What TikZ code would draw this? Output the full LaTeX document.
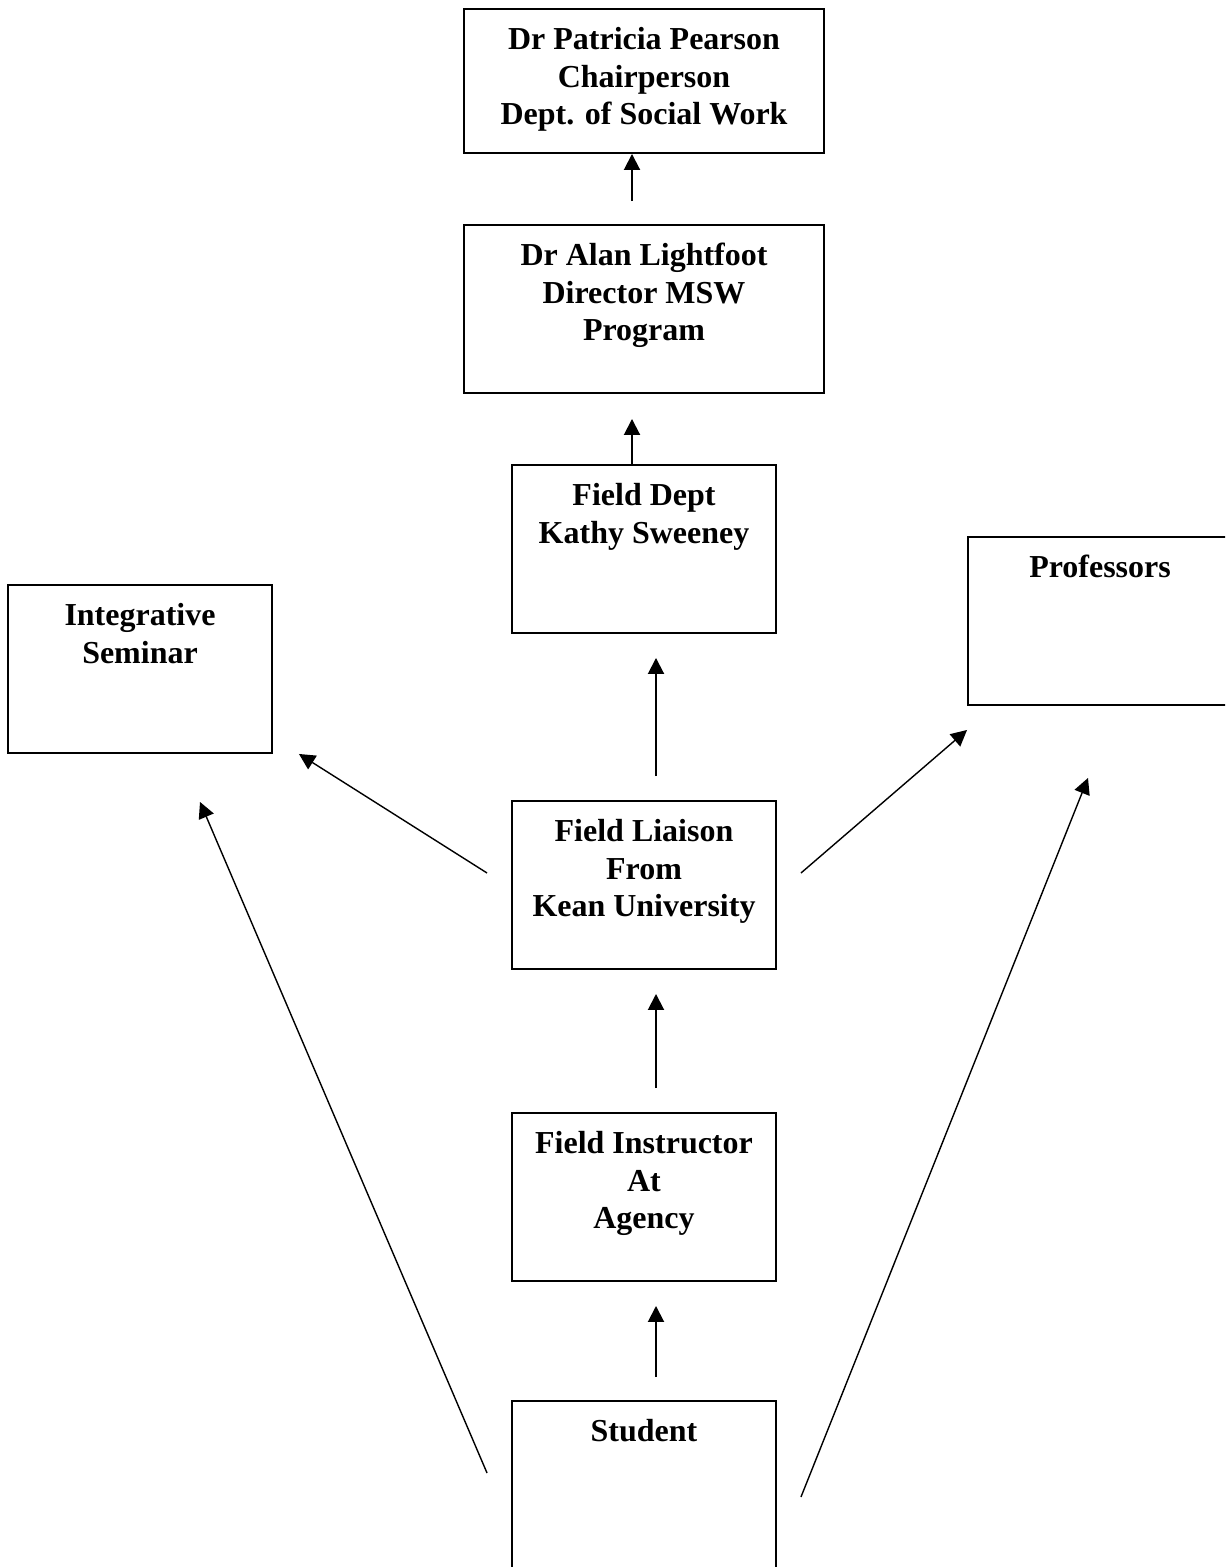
\documentclass[tikz,border=0pt]{standalone}
\usepackage{fontspec}
\setmainfont{Liberation Serif}
\usepackage{tikz}
\usetikzlibrary{positioning,calc,arrows.meta}

\begin{document}
\begin{tikzpicture}[
    box/.style={draw,line width=1.1pt,minimum width=5.28cm,minimum height=3.36cm,inner sep=0pt},
    boxtext/.style={anchor=north,yshift=-0.38cm,align=center,inner sep=0pt,font=\bfseries\fontsize{18.2}{21.3}\selectfont},
    uparrow/.style={-{Triangle[length=0.32cm,width=0.32cm]},line width=1.1pt},
    slantarrow/.style={-{Triangle[length=0.32cm,width=0.32cm]},line width=0.8pt}]
    \clip (0,0) rectangle (24.5,-31.34);

    \node[box,minimum width=7.2cm,minimum height=2.88cm,label={[boxtext]north:{Dr Patricia Pearson\\Chairperson\\Dept. of Social Work}}] (chair) at (12.88,-1.62) {};
    \node[box,minimum width=7.2cm,label={[boxtext]north:{Dr Alan Lightfoot\\Director MSW\\Program}}] (director) at (12.88,-6.18) {};
    \node[box,label={[boxtext]north:{Field Dept\\Kathy Sweeney}}] (fielddept) at (12.88,-10.98) {};
    \node[box,label={[boxtext]north:{Integrative\\Seminar}}] (seminar) at (2.8,-13.38) {};
    \node[box,label={[boxtext]north:{Professors}}] (professors) at (22.0,-12.42) {};
    \node[box,label={[boxtext]north:{Field Liaison\\From\\Kean University}}] (liaison) at (12.88,-17.7) {};
    \node[box,label={[boxtext]north:{Field Instructor\\At\\Agency}}] (instructor) at (12.88,-23.94) {};
    \node[box,label={[boxtext]north:{Student}}] (student) at (12.88,-29.7) {};

    % chain up the middle
    \draw[uparrow,shorten <=0.46cm] ([xshift=-0.24cm]director.north) -- ([xshift=-0.24cm]chair.south);
    \draw[uparrow,shorten >=0.5cm] ([xshift=-0.24cm]fielddept.north) -- ([xshift=-0.24cm]director.south);
    \draw[uparrow,shorten <=0.48cm,shorten >=0.48cm] ([xshift=0.24cm]liaison.north) -- ([xshift=0.24cm]fielddept.south);
    \draw[uparrow,shorten <=0.48cm,shorten >=0.48cm] ([xshift=0.24cm]instructor.north) -- ([xshift=0.24cm]liaison.south);
    \draw[uparrow,shorten <=0.46cm,shorten >=0.48cm] ([xshift=0.24cm]student.north) -- ([xshift=0.24cm]instructor.south);

    % side arrows
    \draw[slantarrow] ([shift={(-0.48,0.24)}]liaison.west) -- ([xshift=0.52cm]seminar.south east);
    \draw[slantarrow] ([shift={(0.48,0.24)}]liaison.east) -- ([yshift=-0.48cm]professors.south west);
    \draw[slantarrow] ([shift={(-0.48,0.24)}]student.west) -- ([shift={(1.2,-0.96)}]seminar.south);
    \draw[slantarrow] ([shift={(0.48,-0.24)}]student.east) -- ([shift={(-0.24,-1.44)}]professors.south);
\end{tikzpicture}
\end{document}
